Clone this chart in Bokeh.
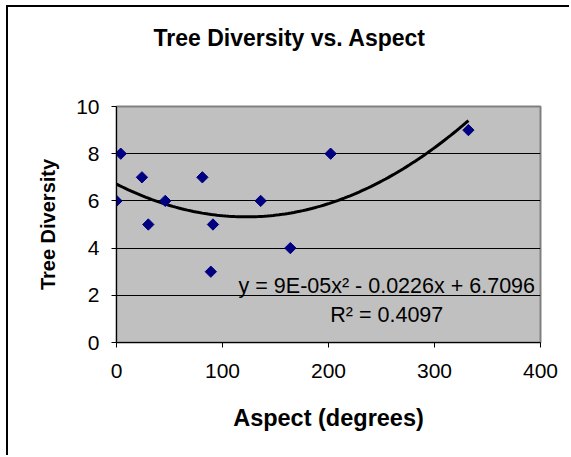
import numpy as np
from bokeh.plotting import figure
from bokeh.models import Range1d, FixedTicker, Label, Title
from bokeh.embed import file_html
from bokeh.resources import INLINE

# ---- data ----
aspect = [0, 4, 24, 30, 46, 81, 89, 91, 136, 164, 202, 332]
diversity = [6, 8, 7, 5, 6, 7, 3, 5, 6, 4, 8, 9]
x_ticks = [0, 100, 200, 300, 400]
y_ticks = [0, 2, 4, 6, 8, 10]
title_text = "Tree Diversity vs. Aspect"
x_title = "Aspect (degrees)"
y_title = "Tree Diversity"
equation_text = "y = 9E-05x\u00b2 - 0.0226x + 6.7096"
r2_text = "R\u00b2 = 0.4097"

# polynomial (order 2) trendline fitted to the data, over the data's x range
coef = np.polyfit(aspect, diversity, 2)
trend_x = np.linspace(min(aspect), max(aspect), 120)
trend_y = np.polyval(coef, trend_x)

FONT = "Liberation Sans"

p = figure(width=563, height=450, output_backend="svg", toolbar_location=None,
           title_location=None,
           x_range=Range1d(0, 400), y_range=Range1d(0, 10),
           min_border_left=108, min_border_right=31,
           min_border_top=99, min_border_bottom=115)
p.margin = (5, 0, 0, 6)
p.styles = {"border-left": "2px solid black", "border-top": "2px solid black"}

p.background_fill_color = "#C0C0C0"
p.border_fill_color = "white"
p.outline_line_color = "#808080"
p.outline_line_width = 2

# spacer panel between the plot area and the title (first added = nearest the frame)
spacer = Title(text=" ", text_font=FONT, text_font_size="23px", standoff=21)
p.add_layout(spacer, "above")
title = Title(text=title_text, text_font=FONT, text_font_size="23px",
              text_font_style="bold", text_color="black",
              align="left", offset=37, vertical_align="top", standoff=10)
p.add_layout(title, "above")

for ax in (p.xaxis[0], p.yaxis[0]):
    ax.axis_line_color = "black"
    ax.axis_line_width = 1
    ax.major_tick_line_color = "black"
    ax.major_tick_out = 5
    ax.major_tick_in = 0
    ax.minor_tick_line_color = None
    ax.major_label_text_font = FONT
    ax.major_label_text_font_size = "21px"
    ax.major_label_text_color = "black"
    ax.axis_label_text_font = FONT
    ax.axis_label_text_font_style = "bold"
    ax.axis_label_text_color = "black"

p.xaxis.ticker = FixedTicker(ticks=x_ticks)
p.yaxis.ticker = FixedTicker(ticks=y_ticks)
p.xaxis.axis_label = x_title
p.yaxis.axis_label = y_title
p.xaxis.axis_label_text_font_size = "23.5px"
p.yaxis.axis_label_text_font_size = "20px"
p.xaxis.major_label_standoff = 16
p.yaxis.major_label_standoff = 12
p.xaxis.axis_label_standoff = 24
p.yaxis.axis_label_standoff = 14

p.xgrid.grid_line_color = None
p.ygrid.grid_line_color = "black"
p.ygrid.grid_line_width = 1
p.ygrid.ticker = FixedTicker(ticks=y_ticks)

p.line(trend_x, trend_y, line_color="black", line_width=3)
p.scatter(aspect, diversity, marker="square", angle=np.pi / 4, size=8,
          fill_color="#000080", line_color="#000080")

p.add_layout(Label(x=255, y=2.41, text=equation_text, text_align="center",
                   text_baseline="alphabetic", text_font=FONT,
                   text_font_size="21.5px", text_color="black"))
p.add_layout(Label(x=255, y=1.18, text=r2_text, text_align="center",
                   text_baseline="alphabetic", text_font=FONT,
                   text_font_size="21.5px", text_color="black"))

open("out.html", "w").write(file_html(p, INLINE))
